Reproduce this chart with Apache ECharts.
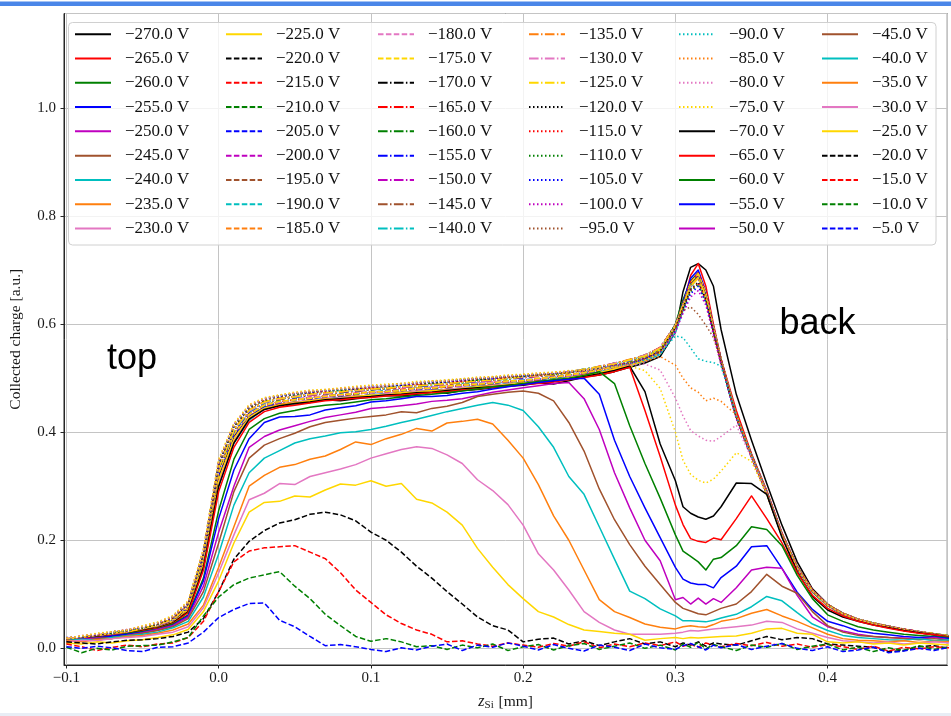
<!DOCTYPE html>
<html>
<head>
<meta charset="utf-8">
<script src="https://cdn.jsdelivr.net/npm/echarts@6/dist/echarts.min.js"></script>
<style>
  html, body { margin: 0; padding: 0; background: #fff; }
  #chart { width: 951px; height: 716px; }
</style>
</head>
<body>
<div id="chart"></div>
<script>
// Depth positions (mm) shared by every bias scan
const zSi = [
  -0.10, -0.09, -0.08, -0.07, -0.06, -0.05, -0.04, -0.03, -0.02, -0.01,
  0.00, 0.01, 0.02, 0.03, 0.04, 0.05, 0.06, 0.07, 0.08, 0.09,
  0.10, 0.11, 0.12, 0.13, 0.14, 0.15, 0.16, 0.17, 0.18, 0.19,
  0.20, 0.21, 0.22, 0.23, 0.24, 0.25, 0.26, 0.27, 0.28, 0.29,
  0.30,
  0.305, 0.31, 0.315, 0.32, 0.325,
  0.33, 0.34, 0.35, 0.36, 0.37, 0.38, 0.39, 0.40, 0.41, 0.42, 0.43, 0.44, 0.45, 0.46, 0.47, 0.48
];

// Bias voltages (V), one scan each
const voltages = [-270, -265, -260, -255, -250, -245, -240, -235, -230, -225,
  -220, -215, -210, -205, -200, -195, -190, -185, -180, -175,
  -170, -165, -160, -155, -150, -145, -140, -135, -130, -125,
  -120, -115, -110, -105, -100, -95, -90, -85, -80, -75,
  -70, -65, -60, -55, -50, -45, -40, -35, -30, -25,
  -20, -15, -10, -5];

// Collected charge [a.u.] per scan, sampled at zSi
const q270 = [.012,.016,.021,.022,.028,.031,.036,.046,.068,.155, .305,.385,.425,.447,.448,.452,.455,.460,.458,.462, .465,.468,.467,.470,.474,.472,.477,.479,.482,.485, .487,.491,.489,.495,.502,.506,.512,.520,.528,.540, .585, .660,.705,.712,.700,.670, .590,.470,.385,.305,.228,.160,.110,.082,.063,.052,.045,.039,.033,.029,.025,.021];
const q265 = [.010,.018,.019,.024,.026,.033,.039,.047,.071,.158, .315,.392,.430,.444,.452,.453,.460,.459,.464,.465, .469,.468,.473,.472,.477,.476,.480,.484,.485,.489, .489,.494,.495,.499,.503,.511,.515,.525,.532,.545, .590, .635,.690,.712,.670,.600, .535,.440,.360,.292,.214,.152,.108,.081,.065,.054,.047,.040,.034,.030,.027,.022];
const q260 = [.015,.016,.020,.025,.027,.030,.037,.049,.070,.152, .312,.388,.426,.446,.449,.456,.457,.462,.461,.467, .466,.471,.470,.476,.475,.479,.480,.485,.484,.490, .491,.492,.497,.501,.504,.509,.518,.523,.534,.549, .600, .645,.680,.695,.655,.590, .530,.428,.354,.286,.208,.148,.104,.079,.062,.052,.045,.039,.035,.030,.025,.023];
const q255 = [.013,.018,.022,.023,.026,.032,.038,.047,.073,.162, .318,.393,.429,.443,.451,.454,.459,.460,.465,.464, .470,.469,.474,.473,.478,.477,.482,.483,.487,.487, .492,.494,.495,.502,.506,.508,.519,.522,.535,.548, .595, .640,.685,.700,.660,.595, .534,.432,.358,.290,.212,.151,.107,.081,.064,.054,.046,.041,.035,.031,.026,.022];
const q250 = [.016,.015,.021,.024,.028,.031,.039,.049,.069,.150, .305,.382,.424,.442,.450,.455,.456,.463,.462,.466, .467,.472,.471,.475,.474,.480,.479,.484,.486,.489, .490,.495,.494,.500,.507,.511,.516,.526,.531,.546, .588, .630,.675,.692,.652,.588, .530,.430,.356,.287,.209,.149,.106,.080,.063,.053,.046,.040,.034,.030,.026,.021];
const q245 = [.014,.019,.019,.022,.027,.034,.037,.048,.071,.155, .310,.386,.427,.446,.449,.454,.459,.460,.463,.467, .468,.470,.473,.474,.477,.478,.481,.482,.486,.488, .491,.492,.497,.499,.505,.510,.514,.524,.534,.545, .590, .632,.674,.690,.654,.592, .533,.430,.357,.288,.211,.150,.106,.080,.064,.053,.046,.040,.035,.030,.026,.022];
const q240 = [.012,.017,.020,.025,.028,.032,.038,.046,.070,.148, .300,.380,.422,.444,.451,.452,.458,.461,.464,.465, .469,.471,.472,.475,.476,.479,.482,.484,.485,.490, .489,.494,.496,.501,.504,.512,.517,.523,.532,.544, .585, .625,.668,.688,.650,.590, .530,.428,.355,.287,.209,.149,.105,.079,.063,.053,.045,.040,.034,.030,.026,.022];
const q235 = [.015,.016,.022,.023,.026,.033,.040,.047,.072,.156, .308,.384,.425,.443,.452,.456,.457,.462,.463,.466, .467,.470,.474,.473,.475,.479,.480,.483,.487,.487, .491,.493,.495,.500,.506,.509,.518,.525,.533,.548, .592, .634,.676,.694,.656,.593, .532,.431,.357,.289,.210,.150,.107,.080,.064,.054,.046,.039,.035,.031,.026,.022];
const q230 = [.013,.018,.020,.024,.029,.031,.037,.049,.070,.152, .306,.386,.424,.445,.448,.455,.460,.459,.464,.467, .466,.471,.471,.476,.476,.478,.483,.482,.486,.489, .490,.492,.496,.500,.503,.510,.516,.524,.534,.546, .590, .630,.670,.689,.653,.590, .531,.429,.356,.288,.210,.150,.106,.080,.064,.053,.046,.040,.035,.030,.026,.022];
const q225 = [.014,.017,.021,.023,.027,.032,.038,.048,.071,.158, .312,.388,.428,.444,.450,.454,.458,.461,.462,.466, .469,.469,.473,.474,.477,.477,.481,.484,.485,.488, .491,.493,.495,.501,.505,.510,.517,.523,.533,.547, .592, .632,.672,.690,.655,.592, .532,.430,.356,.288,.210,.150,.106,.080,.064,.053,.046,.040,.035,.030,.026,.022];
const q220 = [.016,.018,.021,.026,.028,.033,.039,.050,.074,.162, .322,.394,.432,.450,.455,.461,.462,.467,.468,.471, .473,.476,.477,.480,.481,.484,.486,.489,.490,.494, .495,.498,.501,.505,.510,.516,.522,.528,.538,.552, .596, .636,.676,.693,.657,.594, .534,.432,.357,.289,.211,.151,.107,.081,.065,.054,.047,.041,.035,.031,.027,.023];
const q215 = [.013,.019,.023,.024,.029,.034,.040,.049,.073,.160, .325,.398,.434,.449,.457,.459,.464,.466,.469,.470, .474,.475,.479,.479,.483,.483,.487,.488,.492,.493, .496,.497,.502,.504,.511,.514,.523,.527,.539,.551, .598, .638,.678,.695,.658,.595, .535,.433,.358,.290,.212,.151,.108,.081,.065,.054,.047,.041,.036,.031,.027,.023];
const q210 = [.015,.017,.022,.025,.030,.032,.041,.051,.075,.165, .328,.396,.433,.451,.456,.460,.463,.468,.467,.472, .472,.477,.478,.481,.482,.485,.488,.490,.491,.495, .494,.499,.500,.506,.509,.517,.521,.529,.537,.553, .594, .634,.674,.691,.655,.592, .532,.430,.356,.288,.210,.150,.106,.080,.064,.053,.046,.040,.035,.030,.026,.022];
const q205 = [.017,.016,.021,.027,.028,.035,.040,.050,.074,.163, .324,.395,.431,.448,.454,.462,.461,.466,.470,.471, .473,.476,.478,.480,.482,.484,.487,.489,.491,.493, .497,.498,.501,.505,.510,.515,.522,.528,.538,.552, .597, .637,.677,.694,.657,.594, .534,.432,.357,.289,.211,.151,.107,.081,.065,.054,.047,.041,.035,.031,.027,.023];
const q200 = [.014,.018,.022,.025,.029,.033,.039,.051,.076,.166, .330,.399,.435,.450,.456,.460,.465,.465,.469,.472, .475,.474,.479,.481,.481,.486,.486,.490,.492,.494, .495,.499,.503,.504,.511,.515,.521,.529,.539,.550, .595, .635,.675,.692,.656,.593, .533,.431,.357,.289,.211,.151,.107,.081,.064,.054,.046,.040,.035,.031,.026,.022];
const q195 = [.016,.019,.020,.026,.028,.034,.041,.050,.073,.161, .323,.396,.432,.451,.455,.461,.463,.467,.468,.470, .474,.476,.477,.482,.482,.483,.488,.489,.490,.495, .496,.497,.502,.506,.509,.516,.522,.527,.538,.553, .596, .636,.676,.693,.657,.594, .534,.432,.357,.289,.211,.151,.107,.081,.065,.054,.047,.041,.035,.031,.027,.023];
const q190 = [.015,.017,.023,.024,.030,.033,.040,.052,.075,.164, .327,.397,.433,.449,.457,.459,.464,.466,.470,.471, .473,.477,.478,.480,.483,.485,.487,.491,.491,.494, .497,.498,.501,.505,.510,.517,.521,.528,.540,.551, .594, .634,.674,.692,.656,.593, .533,.431,.357,.289,.211,.151,.107,.081,.065,.054,.047,.041,.035,.031,.027,.023];
const q185 = [.016,.018,.021,.026,.029,.034,.039,.050,.074,.162, .326,.398,.434,.450,.456,.461,.462,.468,.469,.472, .474,.475,.479,.481,.482,.484,.488,.489,.492,.493, .495,.499,.502,.506,.511,.515,.523,.529,.539,.552, .596, .636,.676,.693,.657,.594, .534,.432,.357,.289,.211,.151,.107,.081,.065,.054,.047,.041,.035,.031,.027,.023];
const q180 = [.014,.019,.022,.025,.028,.035,.040,.051,.076,.165, .329,.396,.432,.451,.455,.460,.465,.467,.468,.473, .472,.476,.478,.480,.484,.485,.486,.490,.493,.494, .496,.498,.503,.504,.510,.516,.522,.528,.538,.551, .595, .635,.675,.692,.656,.593, .533,.431,.357,.289,.211,.151,.107,.081,.064,.054,.046,.040,.035,.031,.026,.022];
const q175 = [.017,.017,.022,.026,.029,.033,.041,.050,.075,.163, .325,.397,.433,.450,.457,.460,.463,.466,.470,.471, .475,.475,.477,.482,.481,.486,.487,.489,.491,.495, .495,.500,.501,.506,.510,.515,.521,.529,.539,.552, .596, .636,.676,.693,.657,.594, .534,.432,.357,.289,.211,.151,.107,.081,.065,.054,.047,.041,.035,.031,.027,.023];
const q170 = [.016,.019,.023,.027,.031,.036,.042,.052,.077,.168, .332,.402,.438,.455,.461,.465,.469,.471,.474,.476, .479,.480,.483,.485,.487,.489,.492,.494,.496,.499, .501,.504,.506,.510,.515,.520,.527,.533,.542,.556, .598, .636,.672,.688,.652,.590, .531,.430,.356,.288,.210,.150,.106,.080,.064,.053,.046,.040,.035,.030,.026,.022];
const q165 = [.018,.020,.022,.028,.030,.037,.043,.053,.078,.170, .334,.404,.440,.454,.462,.466,.468,.472,.475,.475, .480,.481,.482,.486,.488,.488,.493,.495,.495,.500, .502,.503,.507,.511,.514,.521,.526,.534,.541,.557, .597, .635,.671,.687,.651,.589, .530,.429,.355,.287,.210,.150,.106,.080,.064,.053,.046,.040,.035,.030,.026,.022];
const q160 = [.015,.021,.024,.026,.032,.035,.042,.054,.079,.172, .336,.403,.439,.456,.460,.467,.470,.470,.476,.477, .478,.482,.484,.484,.489,.490,.491,.496,.497,.498, .503,.505,.505,.512,.516,.519,.528,.532,.543,.555, .599, .637,.673,.688,.652,.590, .531,.430,.356,.288,.210,.150,.106,.080,.064,.053,.046,.040,.035,.030,.026,.022];
const q155 = [.017,.019,.023,.029,.031,.036,.044,.052,.078,.169, .333,.401,.437,.455,.463,.464,.469,.473,.473,.478, .479,.480,.485,.486,.486,.491,.492,.494,.498,.499, .500,.506,.507,.510,.517,.520,.526,.534,.541,.556, .598, .636,.672,.687,.651,.590, .531,.430,.356,.288,.210,.150,.106,.080,.064,.053,.046,.040,.035,.030,.026,.022];
const q150 = [.016,.020,.025,.027,.030,.038,.043,.055,.080,.171, .335,.405,.441,.457,.462,.466,.471,.471,.475,.477, .481,.482,.483,.487,.488,.489,.494,.493,.497,.501, .501,.504,.508,.511,.515,.522,.527,.533,.542,.557, .597, .635,.671,.686,.650,.589, .530,.429,.355,.287,.210,.150,.106,.080,.064,.053,.046,.040,.035,.030,.026,.022];
const q145 = [.018,.021,.023,.028,.032,.036,.042,.053,.079,.173, .337,.404,.439,.456,.461,.467,.469,.472,.474,.478, .479,.482,.484,.485,.489,.490,.492,.495,.496,.500, .502,.505,.506,.512,.516,.520,.528,.534,.543,.556, .598, .636,.672,.687,.651,.590, .531,.430,.356,.288,.210,.150,.106,.080,.064,.053,.046,.040,.035,.030,.026,.022];
const q140 = [.017,.019,.024,.029,.031,.037,.044,.054,.078,.170, .334,.402,.438,.454,.463,.465,.470,.473,.475,.476, .480,.481,.485,.486,.487,.491,.491,.496,.497,.499, .503,.504,.507,.510,.517,.521,.526,.533,.541,.555, .597, .635,.671,.686,.650,.589, .530,.429,.355,.287,.210,.150,.106,.080,.064,.053,.046,.040,.035,.030,.026,.022];
const q135 = [.016,.020,.025,.027,.030,.036,.043,.055,.080,.172, .336,.406,.440,.457,.461,.466,.471,.472,.474,.479, .481,.480,.484,.487,.488,.489,.493,.495,.498,.500, .501,.506,.506,.511,.515,.522,.527,.535,.542,.557, .598, .636,.672,.687,.651,.590, .531,.430,.356,.288,.210,.150,.106,.080,.064,.053,.046,.040,.035,.030,.026,.022];
const q130 = [.018,.021,.023,.028,.032,.038,.042,.053,.079,.170, .335,.403,.439,.455,.462,.467,.469,.471,.476,.477, .479,.483,.483,.485,.489,.490,.494,.494,.496,.501, .502,.504,.508,.512,.516,.520,.528,.533,.543,.556, .597, .635,.670,.685,.650,.589, .530,.429,.355,.287,.210,.150,.106,.080,.064,.053,.046,.040,.035,.030,.026,.022];
const q125 = [.017,.020,.024,.029,.031,.037,.044,.054,.078,.171, .334,.404,.441,.456,.463,.465,.470,.473,.475,.478, .480,.481,.485,.486,.487,.491,.492,.495,.497,.499, .503,.505,.507,.510,.517,.521,.526,.534,.541,.555, .596, .634,.670,.685,.650,.589, .530,.429,.355,.287,.210,.150,.106,.080,.064,.053,.046,.040,.035,.030,.026,.022];
const q120 = [.018,.021,.025,.029,.033,.038,.045,.056,.082,.175, .340,.410,.444,.460,.466,.470,.473,.476,.478,.480, .483,.485,.487,.489,.491,.493,.495,.497,.499,.502, .504,.506,.508,.511,.514,.518,.523,.528,.536,.550, .593, .630,.664,.678,.645,.586, .528,.428,.355,.287,.209,.149,.106,.080,.064,.053,.046,.040,.035,.030,.026,.022];
const q115 = [.019,.022,.024,.030,.032,.039,.046,.057,.083,.177, .342,.412,.445,.461,.465,.471,.474,.475,.479,.481, .482,.486,.488,.488,.492,.494,.494,.498,.500,.501, .505,.505,.509,.510,.515,.517,.524,.527,.537,.549, .592, .628,.662,.676,.643,.585, .527,.427,.354,.286,.209,.149,.106,.080,.064,.053,.046,.040,.035,.030,.026,.022];
const q110 = [.017,.023,.026,.028,.034,.038,.045,.058,.084,.178, .344,.411,.446,.459,.467,.469,.475,.477,.477,.482, .484,.484,.489,.490,.490,.495,.496,.496,.501,.502, .503,.507,.507,.512,.513,.519,.522,.529,.535,.548, .590, .626,.660,.674,.642,.584, .527,.427,.354,.286,.209,.149,.106,.080,.064,.053,.046,.040,.035,.030,.026,.022];
const q105 = [.020,.021,.025,.031,.033,.040,.047,.057,.083,.176, .341,.413,.447,.462,.466,.472,.473,.478,.480,.480, .485,.486,.487,.491,.493,.493,.497,.499,.499,.504, .504,.506,.510,.511,.515,.518,.523,.527,.536,.547, .588, .622,.656,.670,.640,.583, .526,.426,.354,.286,.209,.149,.106,.080,.064,.053,.046,.040,.035,.030,.026,.022];
const q100 = [.018,.022,.027,.030,.035,.039,.046,.059,.085,.180, .345,.414,.448,.460,.468,.471,.476,.476,.481,.483, .483,.487,.489,.490,.494,.495,.496,.500,.500,.503, .506,.507,.509,.513,.514,.519,.524,.528,.534,.546, .585, .620,.650,.662,.635,.580, .525,.425,.353,.286,.209,.149,.106,.080,.064,.053,.046,.040,.035,.030,.026,.022];
const q95 = [.019,.023,.026,.031,.034,.040,.047,.058,.084,.178, .343,.412,.447,.461,.467,.472,.475,.477,.480,.482, .484,.486,.490,.491,.493,.496,.497,.499,.502,.502, .505,.508,.508,.512,.515,.517,.523,.527,.535,.548, .592, .625,.632,.618,.598,.575, .530,.427,.354,.286,.209,.149,.106,.080,.064,.053,.046,.040,.035,.030,.026,.022];
const q90 = [.018,.022,.027,.030,.033,.039,.048,.059,.085,.180, .346,.413,.448,.462,.468,.471,.476,.478,.479,.483, .485,.487,.489,.492,.494,.495,.498,.500,.501,.504, .506,.507,.510,.512,.514,.518,.522,.526,.533,.545, .578, .575,.556,.536,.531,.529, .522,.430,.355,.287,.209,.149,.106,.080,.064,.053,.046,.040,.035,.030,.026,.022];
const q85 = [.019,.023,.026,.031,.034,.040,.047,.058,.086,.182, .347,.414,.449,.461,.469,.472,.475,.479,.480,.482, .486,.486,.490,.491,.495,.494,.499,.499,.502,.503, .507,.506,.511,.511,.515,.517,.521,.525,.531,.540, .524, .500,.482,.474,.458,.463, .457,.432,.356,.288,.210,.150,.106,.080,.064,.053,.046,.040,.035,.030,.026,.022];
const q80 = [.018,.024,.027,.030,.035,.041,.048,.060,.087,.184, .349,.415,.450,.463,.468,.473,.477,.478,.481,.484, .485,.488,.489,.493,.494,.496,.498,.501,.502,.505, .506,.509,.510,.513,.514,.518,.521,.524,.526,.515, .463, .430,.403,.393,.385,.383, .392,.413,.352,.287,.209,.149,.106,.080,.064,.053,.046,.040,.035,.030,.026,.022];
const q75 = [.019,.023,.028,.031,.034,.042,.049,.061,.088,.185, .350,.416,.451,.464,.469,.474,.478,.479,.482,.485, .487,.489,.490,.494,.495,.497,.499,.502,.503,.506, .507,.510,.511,.514,.515,.519,.520,.522,.514,.481, .400, .348,.322,.311,.306,.313, .328,.362,.346,.284,.208,.149,.106,.080,.064,.053,.046,.040,.035,.030,.026,.022];
const q70 = [.014,.017,.021,.023,.027,.033,.038,.047,.068,.150, .300,.380,.424,.442,.449,.453,.456,.460,.462,.464, .466,.469,.470,.473,.474,.477,.480,.482,.484,.487, .489,.492,.494,.499,.503,.508,.514,.522,.475,.378, .310, .262,.250,.243,.239,.245, .262,.306,.305,.285,.205,.142,.096,.071,.058,.050,.043,.038,.033,.029,.025,.021];
const q65 = [.013,.018,.020,.024,.026,.032,.037,.046,.066,.145, .290,.372,.418,.438,.446,.450,.454,.458,.460,.463, .464,.467,.469,.471,.473,.475,.478,.480,.483,.485, .488,.490,.493,.497,.501,.506,.512,.520,.440,.355, .265, .229,.203,.198,.196,.204, .201,.240,.282,.240,.195,.140,.098,.074,.060,.050,.043,.037,.032,.028,.025,.021];
const q60 = [.015,.016,.020,.022,.027,.031,.036,.045,.062,.130, .255,.350,.405,.425,.435,.440,.446,.450,.452,.456, .460,.462,.465,.468,.470,.473,.476,.480,.484,.486, .490,.494,.497,.500,.505,.512,.490,.412,.342,.278, .210, .180,.170,.160,.145,.165, .168,.190,.225,.220,.190,.135,.092,.062,.050,.040,.034,.030,.026,.024,.022,.020];
const q55 = [.015,.017,.019,.023,.026,.030,.035,.043,.060,.125, .240,.330,.388,.418,.428,.429,.432,.441,.445,.449, .456,.458,.462,.466,.466,.468,.472,.475,.480,.484, .488,.492,.495,.498,.500,.470,.385,.318,.260,.205, .150, .128,.121,.118,.118,.112, .131,.152,.188,.190,.148,.104,.072,.050,.042,.032,.028,.025,.022,.020,.021,.018];
const q50 = [.013,.016,.019,.018,.024,.029,.035,.042,.058,.115, .215,.300,.372,.392,.404,.412,.420,.427,.432,.437, .444,.446,.449,.452,.457,.459,.462,.468,.474,.478, .482,.486,.490,.492,.462,.405,.325,.260,.200,.162, .090, .094,.082,.093,.082,.092, .085,.112,.145,.150,.148,.098,.058,.040,.032,.026,.022,.020,.019,.017,.020,.016];
const q45 = [.016,.014,.018,.020,.024,.028,.033,.040,.055,.105, .195,.290,.352,.376,.388,.398,.410,.418,.422,.426, .429,.432,.438,.436,.444,.448,.455,.466,.470,.474, .476,.472,.458,.418,.365,.295,.238,.192,.152,.118, .085, .074,.069,.064,.062,.068, .074,.082,.105,.137,.115,.102,.068,.042,.030,.024,.022,.020,.018,.016,.018,.015];
const q40 = [.014,.017,.015,.020,.023,.026,.030,.038,.050,.095, .175,.265,.325,.352,.366,.380,.388,.393,.399,.401, .405,.411,.418,.424,.431,.438,.444,.450,.455,.450, .440,.410,.372,.318,.285,.225,.165,.106,.092,.073, .060, .051,.051,.050,.049,.052, .056,.063,.077,.096,.088,.066,.045,.033,.024,.020,.018,.016,.015,.018,.014,.016];
const q35 = [.015,.012,.016,.018,.022,.024,.028,.034,.045,.080, .150,.225,.300,.320,.335,.340,.350,.356,.368,.382, .377,.388,.396,.407,.402,.417,.420,.424,.415,.385, .352,.303,.245,.200,.145,.090,.068,.057,.045,.039, .036, .040,.042,.040,.039,.044, .050,.055,.065,.072,.060,.050,.038,.026,.018,.015,.014,.012,.014,.011,.013,.012];
const q30 = [.012,.015,.014,.018,.020,.022,.026,.030,.040,.075, .140,.210,.275,.287,.305,.303,.318,.325,.332,.340, .352,.360,.368,.373,.370,.358,.342,.312,.292,.266, .228,.175,.145,.108,.068,.048,.034,.026,.026,.026, .028, .030,.033,.032,.034,.036, .037,.040,.043,.050,.048,.036,.028,.020,.014,.012,.010,.012,.008,.010,.012,.010];
const q25 = [.010,.008,.012,.010,.014,.016,.020,.025,.035,.068, .125,.195,.252,.270,.272,.282,.280,.293,.304,.302, .310,.300,.305,.276,.269,.252,.228,.185,.150,.118, .092,.068,.058,.044,.034,.031,.028,.026,.015,.018, .020, .018,.020,.019,.020,.021, .022,.023,.028,.036,.037,.028,.026,.012,.010,.012,.008,.010,.006,.010,.008,.006];
const q20 = [.012,.010,.008,.012,.015,.016,.018,.022,.030,.055, .105,.165,.198,.218,.232,.238,.248,.252,.247,.236, .215,.200,.178,.152,.130,.105,.082,.058,.042,.034, .012,.017,.019,.008,.014,.005,.012,.018,.008,.012, .003, .010,.006,.012,.004,.010, .008,.006,.014,.022,.016,.020,.018,.008,.006,.004,.002,-.006,-.004,.003,.005,.000];
const q15 = [.008,.003,-.004,.002,.006,.003,.008,.010,.020,.050, .105,.160,.180,.186,.188,.190,.178,.166,.140,.108, .085,.062,.046,.034,.026,.012,.014,.008,.004,.010, .006,.002,.009,.004,.012,.001,.008,.003,.010,.005, .012, .004,.008,.002,.010,.006, .003,.009,.005,.011,.004,.008,.002,.007,.003,-.002,.004,-.005,.002,-.001,.003,.001];
const q10 = [.002,-.008,.000,-.003,.004,.005,.006,.012,.020,.060, .095,.118,.130,.136,.142,.115,.092,.063,.042,.022, .013,.018,.012,.003,.005,-.002,.006,.001,.008,-.004, .003,.007,-.003,.005,.009,-.002,.004,.010,.000,.006, -.003, .008,.002,.011,-.001,.007, .003,-.004,.006,.002,.009,-.002,.004,.008,-.003,.002,-.006,.001,-.004,.005,-.002,.003];
const q5 = [.003,.000,.004,.001,-.004,-.006,.002,.003,.010,.030, .057,.072,.083,.084,.052,.040,.022,.005,.007,.003, -.002,-.006,.001,-.003,.004,.008,-.004,.006,.002,.010, .004,-.003,.007,.000,-.005,.006,.002,-.004,.008,.001, -.002, .005,.009,.003,-.003,.006, .001,.007,-.002,.004,.009,.000,-.004,.003,-.006,-.003,.002,-.008,-.005,.000,-.004,.002];

const charge = [q270, q265, q260, q255, q250, q245, q240, q235, q230, q225,
  q220, q215, q210, q205, q200, q195, q190, q185, q180, q175,
  q170, q165, q160, q155, q150, q145, q140, q135, q130, q125,
  q120, q115, q110, q105, q100, q95, q90, q85, q80, q75,
  q70, q65, q60, q55, q50, q45, q40, q35, q30, q25,
  q20, q15, q10, q5];

// Legend labels, e.g. "−270.0 V"
const labels = voltages.map(v => (v < 0 ? '\u2212' : '') + Math.abs(v).toFixed(1) + ' V');

// Colour and dash cycles
const lineColors = ['#000000', '#ff0000', '#008000', '#0000ff', '#bf00bf',
  '#a0522d', '#00bfbf', '#ff7f0e', '#e377c2', '#ffd700'];
const dashCycle = ['solid', [5.5, 2.4], [9.6, 2.4, 1.5, 2.4], [1.5, 2.5], 'solid', [5.5, 2.4]];

const serif = '"Liberation Serif", "DejaVu Serif", serif';
const sans = '"Liberation Sans", Arial, sans-serif';

const series = voltages.map((v, i) => ({
  type: 'line',
  name: labels[i],
  data: zSi.map((z, j) => [z, charge[i][j]]),
  symbol: 'none',
  showSymbol: false,
  animation: false,
  silent: true,
  emphasis: { disabled: true },
  lineStyle: {
    color: lineColors[i % 10],
    width: 1.5,
    type: dashCycle[Math.floor(i / 10)],
    cap: 'butt',
    join: 'round'
  },
  itemStyle: { color: lineColors[i % 10] }
}));

// Six legend columns of nine entries each; line samples only, no markers
const columnLeft = [74, 225, 377, 528, 678, 821];
const legends = columnLeft.map((left, c) => ({
  orient: 'vertical',
  left: left,
  top: 22,
  padding: 0,
  itemGap: 0,
  itemWidth: 36,
  itemHeight: 10,
  selectedMode: false,
  itemStyle: { opacity: 0, borderWidth: 0 },
  data: labels.slice(c * 9, c * 9 + 9),
  textStyle: {
    fontFamily: serif,
    fontSize: 17,
    color: '#111',
    lineHeight: 24.3,
    padding: [0, 0, 0, 9]
  }
}));

const tickFmt = v => (v < 0 ? '\u2212' : '') + Math.abs(v).toFixed(1);

const chart = echarts.init(document.getElementById('chart'), null, { renderer: 'canvas' });
chart.setOption({
  animation: false,
  backgroundColor: '#ffffff',
  grid: {
    left: 53.5, right: 3.7, top: 13.5, bottom: 48.3,
    show: true, borderColor: '#262626', borderWidth: 1, backgroundColor: 'transparent'
  },
  xAxis: {
    type: 'value',
    min: -0.1016,
    max: 0.4786,
    splitNumber: 6,
    axisLine: { show: true, onZero: false, lineStyle: { color: '#262626', width: 1 } },
    axisTick: { show: true, inside: false, length: 3.5, lineStyle: { color: '#262626', width: 1 } },
    axisLabel: {
      fontFamily: serif, fontSize: 15, color: '#1a1a1a', margin: 6,
      formatter: tickFmt, showMinLabel: false, showMaxLabel: false
    },
    splitLine: { show: true, lineStyle: { color: '#c4c4c4', width: 1 } },
    name: '{z|z}{s|Si}{n| [mm]}',
    nameLocation: 'middle',
    nameGap: 27,
    nameTextStyle: {
      color: '#1a1a1a',
      rich: {
        z: { fontFamily: serif, fontStyle: 'italic', fontSize: 16, color: '#1a1a1a' },
        s: { fontFamily: serif, fontSize: 11, color: '#1a1a1a', padding: [8, 1, 0, 0] },
        n: { fontFamily: serif, fontSize: 15.5, color: '#1a1a1a' }
      }
    }
  },
  yAxis: {
    type: 'value',
    min: -0.0308,
    max: 1.1747,
    splitNumber: 6,
    axisLine: { show: true, onZero: false, lineStyle: { color: '#262626', width: 1 } },
    axisTick: { show: true, inside: false, length: 3.5, lineStyle: { color: '#262626', width: 1 } },
    axisLabel: {
      fontFamily: serif, fontSize: 15, color: '#1a1a1a', margin: 8,
      formatter: tickFmt, showMinLabel: false, showMaxLabel: false
    },
    splitLine: { show: true, lineStyle: { color: '#c4c4c4', width: 1 } },
    name: 'Collected charge [a.u.]',
    nameLocation: 'middle',
    nameGap: 40,
    nameTextStyle: { fontFamily: serif, fontSize: 15.5, color: '#1a1a1a' }
  },
  legend: legends,
  graphic: [
    { type: 'rect', silent: true, z: 0, shape: { x: 0, y: 1.5, width: 951, height: 4.5 }, style: { fill: '#4a86e8' } },
    { type: 'rect', silent: true, z: 0, shape: { x: 0, y: 713, width: 951, height: 3 }, style: { fill: '#e8edf5' } },
    { type: 'rect', silent: true, z: 3, shape: { x: 68.5, y: 22.5, width: 867.5, height: 222.5, r: 4 },
      style: { fill: 'rgba(255,255,255,0.8)', stroke: '#d0d0d0', lineWidth: 1 } },
    { type: 'text', silent: true, z: 10, x: 107, y: 359,
      style: { text: 'top', font: '36px ' + sans, fill: '#000', verticalAlign: 'middle' } },
    { type: 'text', silent: true, z: 10, x: 779.5, y: 324.5,
      style: { text: 'back', font: '36px ' + sans, fill: '#000', verticalAlign: 'middle' } }
  ],
  series: series
});
</script>
</body>
</html>
